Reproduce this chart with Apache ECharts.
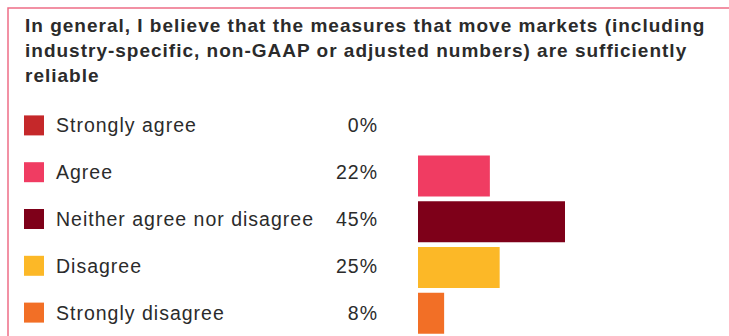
<!DOCTYPE html>
<html>
<head>
<meta charset="utf-8">
<script src="https://cdn.jsdelivr.net/npm/echarts@6/dist/echarts.min.js"></script>
<style>
  html, body { margin: 0; padding: 0; background: #fff; }
  #chart { width: 729px; height: 336px; }
  /* slightly open tracking for all chart text */
  #chart svg text { letter-spacing: 1px; }
</style>
</head>
<body>
<div id="chart"></div>
<script>
// Survey answers, in display order
const categories = ['Strongly agree', 'Agree', 'Neither agree nor disagree', 'Disagree', 'Strongly disagree'];
const shares = [0, 22, 45, 25, 8];
const colors = ['#c5282a', '#f03c62', '#7e0019', '#fcb827', '#f26f26'];
const titleLines = [
  'In general, I believe that the measures that move markets (including',
  'industry-specific, non-GAAP or adjusted numbers) are sufficiently',
  'reliable'
];

const FONT = '"Liberation Sans", Arial, Helvetica, sans-serif';
const TEXT = '#2b2b2b';

// one rich style per swatch colour
const rich = {
  n: { fontFamily: FONT, fontSize: 19.5, color: TEXT, width: 280, padding: [0, 0, 0, 12], lineHeight: 22 },
  v: { fontFamily: FONT, fontSize: 19.5, color: TEXT, width: 42, align: 'right', lineHeight: 22 }
};
colors.forEach((c, i) => {
  rich['s' + i] = { width: 20, height: 20, backgroundColor: c };
});

const chart = echarts.init(document.getElementById('chart'), null, { renderer: 'svg' });
chart.setOption({
  animation: false,
  backgroundColor: '#fff',
  title: {
    text: titleLines.join('\n'),
    left: 25,
    top: 13,
    padding: 0,
    textStyle: { fontFamily: FONT, fontSize: 19, fontWeight: 'bold', color: TEXT, lineHeight: 25 }
  },
  graphic: [{
    type: 'polyline',
    shape: { points: [[8, 340], [8, 8], [740, 8]] },
    style: { stroke: '#ee6d87', lineWidth: 1.5, fill: null },
    silent: true
  }],
  grid: [
    // answer rows: swatch, wording and share
    { left: 400, top: 102, width: 10, height: 240 },
    // bars
    { left: 418, top: 107.5, width: 294, height: 230 }
  ],
  xAxis: [
    { type: 'value', gridIndex: 0, show: false, min: 0, max: 1 },
    { type: 'value', gridIndex: 1, show: false, min: 0, max: 90 }
  ],
  yAxis: [
    {
      type: 'category', gridIndex: 0, inverse: true, data: categories,
      axisLine: { show: false }, axisTick: { show: false }, splitLine: { show: false },
      axisLabel: {
        margin: 376,
        align: 'left',
        formatter: (val, idx) => `{s${idx}|}{n|${val}}{v|${shares[idx]}%}`,
        rich: rich
      }
    },
    {
      type: 'category', gridIndex: 1, inverse: true, data: categories,
      axisLine: { show: false }, axisTick: { show: false }, splitLine: { show: false },
      axisLabel: { show: false }
    }
  ],
  series: [{
    type: 'bar',
    xAxisIndex: 1,
    yAxisIndex: 1,
    barWidth: 41,
    data: shares.map((v, i) => ({ value: v, itemStyle: { color: colors[i] } })),
    silent: true
  }]
});
</script>
</body>
</html>
